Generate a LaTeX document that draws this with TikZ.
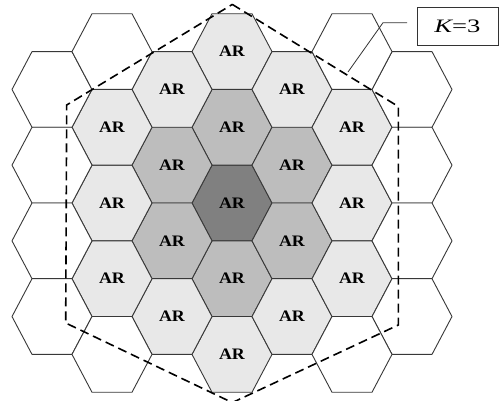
\documentclass[tikz,border=0pt]{standalone}
\usepackage{fontspec}
\setmainfont{Liberation Serif}
\usetikzlibrary{positioning}

\begin{document}
\begin{tikzpicture}[x=1pt,y=-1pt,
  cell/.style={draw=black!78,line width=0.9pt,line join=round},
  core/.style={cell,fill=black!50}, ringa/.style={cell,fill=black!26},
  ringb/.style={cell,fill=black!9}, blank/.style={cell,fill=white},
  lbl/.style={font=\fontsize{16}{16}\selectfont\bfseries,xscale=1.12,inner sep=0pt},
  cluster/.style={line width=1.6pt,dash pattern=on 9pt off 5pt},
  tag/.style={draw=black!80,line width=0.8pt,minimum width=81pt,minimum height=38pt,
    font=\fontsize{19}{19}\selectfont}]
\useasboundingbox (0,0) rectangle (499,401);
% labelled cells: column/row/style
\foreach \c/\r/\k [count=\i] in {0/0/core, 0/-2/ringa, 0/2/ringa, -1/-1/ringa, 1/-1/ringa,
    -1/1/ringa, 1/1/ringa, 0/-4/ringb, 0/4/ringb, -1/-3/ringb, 1/-3/ringb, -1/3/ringb,
    1/3/ringb, -2/0/ringb, 2/0/ringb, -2/-2/ringb, 2/-2/ringb, -2/2/ringb, 2/2/ringb} {
  \pgfmathsetmacro\x{232+60*\c}
  \pgfmathsetmacro\y{203+37.85*\r}
  \draw[\k,shift={(\x,\y)}] (-40,0) -- (-20,-37.85) -- (20,-37.85) -- (40,0)
    -- (20,37.85) -- (-20,37.85) -- cycle;
  \node[lbl] (ar\i) at (\x,\y) {AR};
}
% empty cells round the cluster
\foreach \c/\r [count=\i] in {-3/-3, -3/-1, -3/1, -3/3, 3/-3, 3/-1, 3/1, 3/3,
    -2/-4, -2/4, 2/-4, 2/4} {
  \pgfmathsetmacro\x{232+60*\c}
  \pgfmathsetmacro\y{203+37.85*\r}
  \draw[blank,shift={(\x,\y)}] (-40,0) -- (-20,-37.85) -- (20,-37.85) -- (40,0)
    -- (20,37.85) -- (-20,37.85) -- cycle;
}
\draw[cluster] (232.3,4.4) -- (398.3,106.5) -- (398.3,325) -- (232.3,402.6)
  -- (65.7,323) -- (66.7,105) -- cycle;
\node[tag] (kbox) at (457.5,26) {\scalebox{1.4}[1]{\itshape K\upshape=3}};
\coordinate (lead) at (407,22.7);
\coordinate (bend) at (383,22.7);
\coordinate (tip) at (348,72);
\draw[black!80,line width=0.8pt] (lead) -- (bend) -- (tip);
\end{tikzpicture}
\end{document}
